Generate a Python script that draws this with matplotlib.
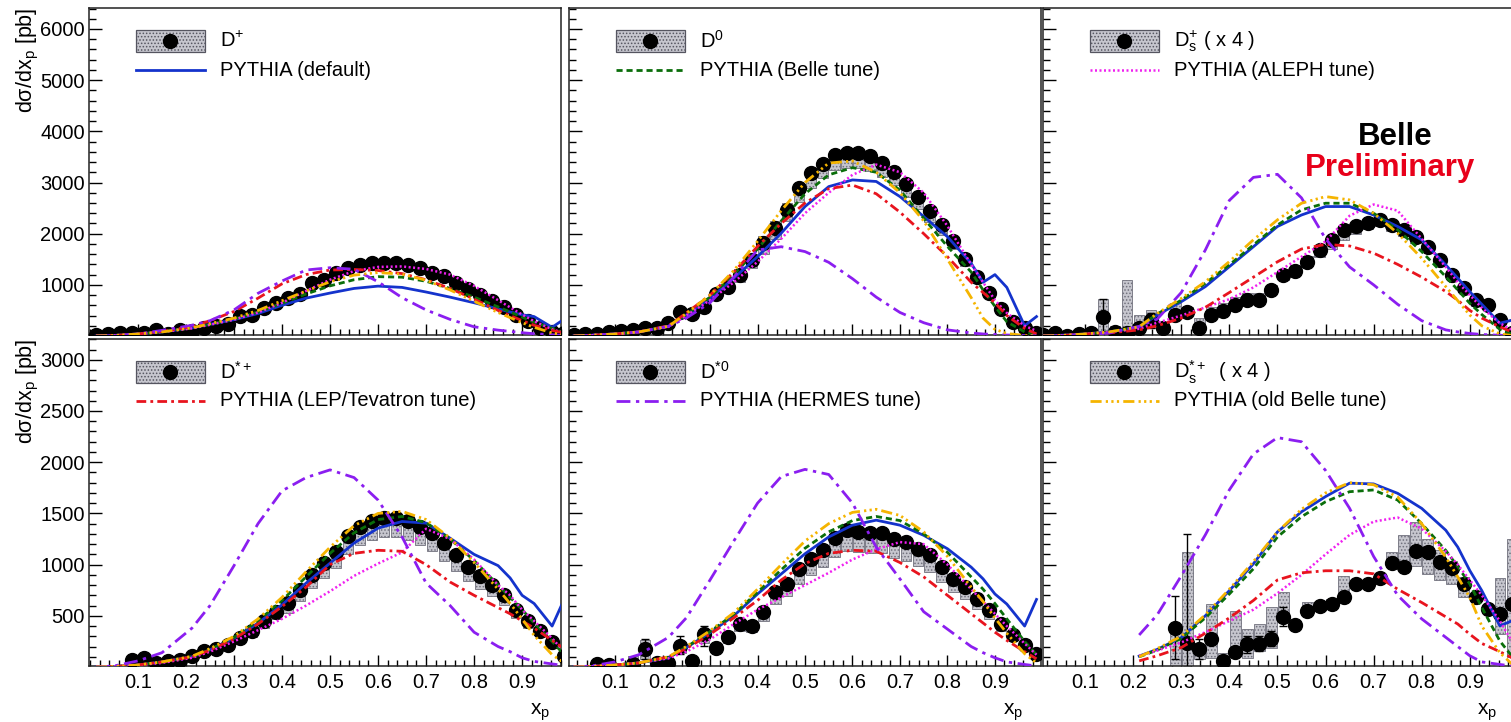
import numpy as np
import matplotlib
matplotlib.use("Agg")
import matplotlib.pyplot as plt
from matplotlib.patches import Rectangle
from matplotlib.lines import Line2D
from matplotlib.ticker import FixedLocator, MultipleLocator

plt.rcParams['font.family'] = ['Liberation Sans', 'DejaVu Sans']
plt.rcParams['mathtext.fontset'] = 'custom'
plt.rcParams['mathtext.rm'] = 'Liberation Sans'
plt.rcParams['mathtext.it'] = 'Liberation Sans:italic'
plt.rcParams['mathtext.bf'] = 'Liberation Sans:bold'
plt.rcParams['hatch.linewidth'] = 0.7

nan = np.nan
W, H = 1511, 722

# x_p bin centres (bin width 0.025)
x_bins = [0.0125, 0.0375, 0.0625, 0.0875, 0.1125, 0.1375, 0.1625, 0.1875, 0.2125, 0.2375,
          0.2625, 0.2875, 0.3125, 0.3375, 0.3625, 0.3875, 0.4125, 0.4375, 0.4625, 0.4875,
          0.5125, 0.5375, 0.5625, 0.5875, 0.6125, 0.6375, 0.6625, 0.6875, 0.7125, 0.7375,
          0.7625, 0.7875, 0.8125, 0.8375, 0.8625, 0.8875, 0.9125, 0.9375, 0.9625, 0.9875]
# x_p points where the PYTHIA curves were read
x_curve = [0.0125, 0.05, 0.10, 0.15, 0.2125, 0.25, 0.30, 0.35, 0.40, 0.45, 0.50, 0.55,
           0.60, 0.65, 0.70, 0.75, 0.80, 0.85, 0.875, 0.90, 0.925, 0.9625, 0.9875]

# ---------------- D+ ----------------
dplus_data = [20, 30, 65, 50, 65, 120, 35, 120, 105, 150, 200, 230, 395, 415, 545, 640, 740, 820, 1045, 1100,
              1230, 1325, 1390, 1435, 1435, 1425, 1390, 1325, 1240, 1175, 1030, 915, 805, 675, 575, 415, 285, 150, 85, 50]
dplus_default = [0, 10, 40, 80, 160, 230, 320, 440, 600, 740, 840, 930, 975, 950, 860, 760, 650, 530, 470, 415, 380, 170, 330]
dplus_belle = [0, 10, 40, 80, 160, 230, 330, 470, 640, 820, 980, 1100, 1160, 1150, 1070, 930, 760, 570, 470, 370, 270, 150, 60]
dplus_aleph = [0, 10, 40, 80, 150, 220, 320, 460, 650, 880, 1100, 1270, 1350, 1360, 1310, 1200, 980, 700, 560, 420, 290, 130, 60]
dplus_lep = [0, 10, 40, 90, 185, 300, 480, 740, 1020, 1200, 1290, 1300, 1280, 1220, 1100, 930, 720, 500, 400, 300, 210, 110, 60]
dplus_hermes = [0, 10, 40, 110, 210, 300, 510, 835, 1075, 1290, 1335, 1305, 1060, 750, 510, 325, 180, 115, 90, 65, 45, 25, 10]
dplus_oldbelle = [0, 10, 40, 80, 160, 240, 350, 500, 690, 880, 1060, 1190, 1240, 1210, 1090, 900, 680, 460, 360, 260, 170, 60, 20]

# ---------------- D0 ----------------
d0_data = [20, 30, 40, 85, 100, 120, 150, 165, 260, 475, 425, 575, 815, 965, 1195, 1485, 1810, 2105, 2465, 2890,
           3180, 3365, 3540, 3575, 3585, 3520, 3390, 3215, 2975, 2725, 2445, 2170, 1860, 1500, 1160, 850, 520, 280, 150, 50]
d0_box_lo = [15, 25, 35, 75, 90, 105, 130, 145, 230, 420, 380, 510, 720, 860, 1060, 1320, 1610, 1900, 2250, 2620,
             2900, 3080, 3240, 3280, 3290, 3230, 3110, 2950, 2720, 2490, 2230, 1980, 1700, 1370, 1060, 780, 470, 250, 130, 40]
d0_box_hi = [25, 35, 45, 95, 110, 135, 165, 185, 290, 520, 470, 640, 900, 1070, 1300, 1600, 1950, 2250, 2600, 3000,
             3250, 3420, 3560, 3590, 3590, 3530, 3400, 3230, 3000, 2740, 2460, 2180, 1870, 1510, 1170, 860, 530, 290, 160, 60]
d0_default = [0, 15, 40, 80, 190, 410, 735, 1130, 1550, 2010, 2530, 2920, 3050, 3020, 2725, 2335, 1940, 1420, 1050, 1200, 950, 200, 380]
d0_belle = [0, 15, 40, 80, 190, 420, 760, 1200, 1700, 2250, 2780, 3150, 3290, 3200, 2850, 2300, 1750, 1250, 900, 580, 280, 80, 20]
d0_aleph = [0, 15, 40, 80, 180, 400, 700, 1050, 1450, 1900, 2400, 2800, 3150, 3350, 3200, 2800, 2150, 1400, 1050, 700, 450, 200, 100]
d0_lep = [0, 15, 40, 80, 200, 450, 800, 1250, 1750, 2200, 2600, 2880, 2950, 2780, 2420, 2000, 1550, 1050, 850, 650, 400, 150, 40]
d0_hermes = [0, 15, 40, 80, 190, 350, 650, 1150, 1680, 1745, 1650, 1440, 1120, 760, 460, 260, 120, 60, 40, 30, 20, 10, 5]
d0_oldbelle = [0, 15, 40, 80, 190, 440, 800, 1280, 1850, 2450, 3000, 3380, 3420, 3200, 2800, 2250, 1500, 750, 350, 130, 50, 10, 0]

# ---------------- Ds+ (x4) ----------------
ds_data = [20, 50, 10, 40, 60, 380, 85, 50, 150, 310, 150, 410, 475, 150, 410, 495, 605, 705, 705, 900,
           1195, 1280, 1455, 1680, 1880, 2075, 2150, 2205, 2270, 2170, 2075, 1930, 1735, 1485, 1195, 930, 705, 605, 310, 50]
ds_box_lo = [0, 30, 0, 20, 40, 50, 40, 50, 120, 150, 100, 380, 420, 150, 410, 475, 570, 670, 700, 880,
             1095, 1195, 1360, 1550, 1710, 1880, 2000, 2100, 2150, 2050, 1960, 1820, 1640, 1400, 1120, 870, 580, 560, 270, 30]
ds_box_hi = [30, 70, 60, 130, 90, 720, 200, 1095, 410, 510, 250, 640, 560, 345, 575, 640, 770, 850, 850, 1000,
             1290, 1380, 1555, 1760, 1930, 2140, 2200, 2230, 2290, 2190, 2090, 1950, 1750, 1500, 1210, 950, 780, 650, 340, 80]
ds_err_bins = [5, 9]
ds_err_dn = [330, 160]
ds_err_up = [340, 135]
ds_default = [0, 15, 40, 80, 170, 410, 670, 965, 1355, 1745, 2140, 2365, 2530, 2530, 2365, 2140, 1880, 1390, 1130, 865, 620, 250, 310]
ds_belle = [0, 10, 40, 80, 180, 430, 700, 1030, 1390, 1780, 2170, 2465, 2595, 2595, 2400, 2075, 1650, 1160, 900, 640, 420, 130, 40]
ds_aleph = [0, 10, 40, 80, 140, 260, 400, 560, 720, 950, 1250, 1550, 1850, 2350, 2570, 2450, 1900, 1350, 1050, 800, 550, 250, 120]
ds_lep = [0, 10, 40, 60, 120, 200, 350, 560, 850, 1150, 1450, 1700, 1790, 1760, 1620, 1400, 1150, 870, 700, 500, 350, 180, 80]
ds_hermes = [0, 10, 30, 60, 190, 330, 850, 1680, 2650, 3100, 3160, 2700, 1900, 1350, 1000, 620, 300, 120, 80, 50, 30, 15, 10]
ds_oldbelle = [0, 10, 40, 80, 180, 440, 735, 1060, 1455, 1880, 2270, 2595, 2725, 2660, 2400, 2010, 1520, 965, 690, 410, 200, 40, 10]

# ---------------- D*+ ----------------
dstp_data = [nan, nan, nan, 70, 87, 38, 54, 64, 103, 152, 174, 217, 282, 347, 445, 542, 624, 754, 900, 1014,
             1128, 1275, 1372, 1421, 1454, 1454, 1421, 1372, 1307, 1210, 1096, 981, 884, 802, 705, 559, 445, 347, 249, 110]
dstp_box_lo = [nan, nan, nan, 55, 70, 25, 40, 50, 85, 130, 150, 185, 240, 295, 380, 465, 530, 645, 770, 870,
               970, 1100, 1190, 1240, 1270, 1270, 1240, 1190, 1130, 1040, 940, 840, 760, 690, 605, 480, 385, 300, 215, 95]
dstp_box_hi = [nan, nan, nan, 85, 100, 50, 65, 75, 115, 165, 190, 235, 300, 365, 460, 555, 640, 770, 915, 1025,
               1140, 1285, 1380, 1430, 1460, 1460, 1430, 1380, 1315, 1220, 1105, 990, 895, 810, 715, 570, 455, 355, 255, 120]
dstp_default = [0, 5, 20, 50, 100, 168, 282, 429, 608, 819, 1014, 1210, 1356, 1421, 1405, 1258, 1100, 990, 870, 700, 620, 400, 660]
dstp_belle = [0, 5, 20, 50, 100, 170, 290, 450, 650, 880, 1110, 1310, 1440, 1470, 1410, 1250, 1040, 800, 680, 560, 430, 250, 120]
dstp_aleph = [0, 5, 20, 40, 90, 150, 250, 360, 470, 600, 740, 890, 1010, 1120, 1350, 1250, 1050, 800, 700, 560, 450, 280, 150]
dstp_lep = [0, 5, 20, 50, 100, 165, 275, 420, 590, 780, 1000, 1110, 1140, 1130, 1000, 830, 700, 580, 520, 450, 380, 260, 180]
dstp_hermes = [0, 10, 60, 140, 380, 600, 990, 1400, 1720, 1850, 1925, 1850, 1630, 1270, 820, 600, 340, 200, 150, 90, 55, 30, 15]
dstp_oldbelle = [0, 5, 20, 50, 105, 180, 300, 470, 680, 930, 1170, 1380, 1500, 1520, 1440, 1260, 1020, 760, 620, 470, 310, 120, 40]

# ---------------- D*0 ----------------
dst0_data = [nan, nan, 25, 15, nan, 25, 172, 41, 41, 205, 58, 320, 189, 294, 418, 402, 533, 730, 812, 959,
             1057, 1145, 1263, 1335, 1319, 1310, 1310, 1254, 1221, 1155, 1090, 975, 861, 779, 664, 556, 418, 313, 215, 123]
dst0_box_lo = [nan, nan, 15, 5, nan, 0, 80, 30, 30, 140, 45, 230, 150, 230, 350, 340, 450, 620, 690, 815,
               900, 975, 1075, 1135, 1120, 1115, 1115, 1065, 1040, 985, 925, 830, 730, 660, 565, 470, 355, 265, 180, 100]
dst0_box_hi = [nan, nan, 35, 25, nan, 110, 260, 55, 55, 230, 70, 340, 205, 310, 430, 415, 545, 745, 825, 970,
               1065, 1150, 1270, 1340, 1325, 1315, 1315, 1260, 1230, 1160, 1095, 980, 870, 790, 675, 565, 425, 320, 225, 130]
dst0_err_bins = [6, 9, 11]
dst0_err_dn = [98, 82, 115]
dst0_err_up = [99, 98, 81]
dst0_default = [0, 5, 20, 40, 90, 189, 336, 500, 713, 909, 1106, 1270, 1385, 1434, 1385, 1286, 1155, 975, 861, 713, 615, 400, 660]
dst0_belle = [0, 5, 20, 40, 95, 195, 345, 515, 730, 950, 1160, 1320, 1430, 1470, 1430, 1300, 1120, 880, 760, 620, 470, 250, 120]
dst0_aleph = [0, 5, 20, 40, 85, 150, 270, 420, 560, 680, 800, 920, 1050, 1150, 1220, 1200, 1000, 760, 640, 520, 400, 230, 120]
dst0_lep = [0, 5, 20, 40, 100, 180, 320, 480, 650, 850, 1010, 1110, 1140, 1130, 1020, 880, 700, 520, 430, 340, 260, 150, 80]
dst0_hermes = [0, 10, 50, 120, 290, 480, 850, 1230, 1600, 1860, 1930, 1880, 1600, 1170, 860, 540, 370, 200, 140, 90, 50, 25, 10]
dst0_oldbelle = [0, 5, 20, 40, 100, 200, 355, 530, 760, 1000, 1230, 1400, 1510, 1540, 1480, 1320, 1080, 780, 640, 480, 330, 130, 40]

# ---------------- Ds*+ (x4) ----------------
dsst_data = [nan, nan, nan, nan, nan, nan, nan, nan, nan, nan, nan, 385, 238, 172, 271, 58, 150, 221, 228, 271,
             484, 411, 549, 598, 615, 680, 811, 811, 870, 1014, 975, 1132, 1122, 1024, 969, 811, 680, 566, 516, 615]
dsst_box_lo = [nan, nan, nan, nan, nan, nan, nan, nan, nan, nan, nan, 0, 0, 74, 90, 10, 107, 90, 156, 189,
               484, 380, 516, 560, 590, 648, 780, 790, 840, 975, 975, 990, 909, 851, 811, 687, 640, 540, 320, 100]
dsst_box_hi = [nan, nan, nan, nan, nan, nan, nan, nan, nan, nan, nan, 418, 1122, 221, 615, 140, 549, 369, 418, 582,
               730, 440, 631, 630, 660, 893, 840, 830, 900, 1122, 1286, 1417, 1253, 1139, 1040, 877, 720, 590, 870, 1250]
dsst_err_bins = [11, 12, 13, 17, 18, 19, 20]
dsst_err_dn = [311, 238, 98, 81, 72, 66, 82]
dsst_err_up = [312, 1065, 99, 82, 75, 82, 98]
dsst_default = [nan, nan, nan, nan, 107, 172, 287, 500, 746, 1008, 1319, 1516, 1664, 1795, 1788, 1696, 1549, 1336, 1171, 942, 746, 402, 451]
dsst_belle = [nan, nan, nan, nan, 100, 165, 280, 480, 713, 959, 1270, 1467, 1614, 1712, 1729, 1630, 1400, 1139, 980, 811, 582, 254, 107]
dsst_aleph = [nan, nan, nan, nan, 110, 160, 240, 340, 450, 560, 720, 900, 1100, 1290, 1420, 1460, 1350, 1130, 1000, 850, 700, 450, 250]
dsst_lep = [nan, nan, nan, nan, 60, 110, 190, 330, 480, 650, 850, 920, 940, 940, 910, 760, 630, 490, 420, 320, 230, 150, 90]
dsst_hermes = [nan, nan, nan, nan, 313, 510, 890, 1290, 1730, 2080, 2240, 2200, 1920, 1550, 1080, 700, 470, 290, 200, 110, 50, 25, 10]
dsst_oldbelle = [nan, nan, nan, nan, 100, 180, 300, 510, 760, 1030, 1320, 1540, 1700, 1800, 1780, 1660, 1400, 1073, 880, 680, 400, 140, 30]

tunes = ['default', 'belle', 'aleph', 'lep', 'hermes', 'oldbelle']
tune_style = {
    'default':  dict(color='#1433cc', ls='-', lw=2.0),
    'belle':    dict(color='#0a6e0a', ls=(0, (2.2, 1.4)), lw=2.0),
    'aleph':    dict(color='#f020f0', ls=(0, (0.8, 1.0)), lw=1.8),
    'lep':      dict(color='#e8141e', ls=(0, (3.5, 1.5, 1.0, 1.5)), lw=2.0),
    'hermes':   dict(color='#8b1ef0', ls=(0, (5, 2, 1.2, 2)), lw=2.0),
    'oldbelle': dict(color='#f5b400', ls=(0, (4, 1.5, 0.8, 1.2, 0.8, 1.2, 0.8, 1.5)), lw=2.0),
}

panels = [
    dict(row=0, col=0, data=dplus_data, lo=None, hi=None, err=None,
         curves=[dplus_default, dplus_belle, dplus_aleph, dplus_lep, dplus_hermes, dplus_oldbelle],
         label='D$^{+}$', tune='default', tune_label='PYTHIA (default)'),
    dict(row=0, col=1, data=d0_data, lo=d0_box_lo, hi=d0_box_hi, err=None,
         curves=[d0_default, d0_belle, d0_aleph, d0_lep, d0_hermes, d0_oldbelle],
         label='D$^{0}$', tune='belle', tune_label='PYTHIA (Belle tune)'),
    dict(row=0, col=2, data=ds_data, lo=ds_box_lo, hi=ds_box_hi, err=(ds_err_bins, ds_err_dn, ds_err_up),
         curves=[ds_default, ds_belle, ds_aleph, ds_lep, ds_hermes, ds_oldbelle],
         label='D$_{\\mathrm{s}}^{+}$ ( x 4 )', tune='aleph', tune_label='PYTHIA (ALEPH tune)'),
    dict(row=1, col=0, data=dstp_data, lo=dstp_box_lo, hi=dstp_box_hi, err=None,
         curves=[dstp_default, dstp_belle, dstp_aleph, dstp_lep, dstp_hermes, dstp_oldbelle],
         label='D$^{*+}$', tune='lep', tune_label='PYTHIA (LEP/Tevatron tune)'),
    dict(row=1, col=1, data=dst0_data, lo=dst0_box_lo, hi=dst0_box_hi, err=(dst0_err_bins, dst0_err_dn, dst0_err_up),
         curves=[dst0_default, dst0_belle, dst0_aleph, dst0_lep, dst0_hermes, dst0_oldbelle],
         label='D$^{*0}$', tune='hermes', tune_label='PYTHIA (HERMES tune)'),
    dict(row=1, col=2, data=dsst_data, lo=dsst_box_lo, hi=dsst_box_hi, err=(dsst_err_bins, dsst_err_dn, dsst_err_up),
         curves=[dsst_default, dsst_belle, dsst_aleph, dsst_lep, dsst_hermes, dsst_oldbelle],
         label='D$_{\\mathrm{s}}^{*+}$  ( x 4 )', tune='oldbelle', tune_label='PYTHIA (old Belle tune)'),
]

# pad geometry in pixels
col_px = [(89, 561), (569, 1041), (1043, 1515)]
row_px = [(8, 335), (339, 666)]
col_xlim = [(-0.002, 0.981), (0.003, 0.997), (0.0125, 0.994)]
row_ylim = [(20, 6410), (10, 3203)]
row_major = [1000, 500]
row_minor = [200, 100]
xlabel_px = [550, 1023, 1497]

BOX_FACE = '#c6c6ce'
BOX_EDGE = '#70707c'


def fx(p):
    return p / W


def fy(p):
    return 1 - p / H


fig = plt.figure(figsize=(W / 100, H / 100), dpi=100)

for p in panels:
    l, r = col_px[p['col']]
    t, b = row_px[p['row']]
    ax = fig.add_axes([fx(l), fy(b), (r - l) / W, (b - t) / H])
    ax.set_xlim(*col_xlim[p['col']])
    ax.set_ylim(*row_ylim[p['row']])

    # systematic boxes
    if p['lo'] is not None:
        for xb, lo, hi in zip(x_bins, p['lo'], p['hi']):
            if np.isfinite(lo) and np.isfinite(hi):
                ax.add_patch(Rectangle((xb - 0.011, lo), 0.022, hi - lo, facecolor=BOX_FACE,
                                       edgecolor=BOX_EDGE, hatch='.....', lw=0.6, zorder=2))
    # statistical errors
    if p['err'] is not None:
        bins, dn, up = p['err']
        ax.errorbar([x_bins[i] for i in bins], [p['data'][i] for i in bins], yerr=[dn, up],
                    fmt='none', ecolor='black', elinewidth=1.0, capsize=3, capthick=1.0, zorder=3)
    ax.plot(x_bins, p['data'], 'o', color='black', ms=10, zorder=3)

    for key, vals in zip(tunes, p['curves']):
        st = tune_style[key]
        ax.plot(x_curve, vals, color=st['color'], ls=st['ls'], lw=st['lw'], zorder=4)

    ax.xaxis.set_major_locator(FixedLocator([0.1, 0.2, 0.3, 0.4, 0.5, 0.6, 0.7, 0.8, 0.9]))
    ax.xaxis.set_minor_locator(MultipleLocator(0.02))
    ax.yaxis.set_major_locator(MultipleLocator(row_major[p['row']]))
    ax.yaxis.set_minor_locator(MultipleLocator(row_minor[p['row']]))
    ax.tick_params(which='both', direction='in', top=False, right=False, width=1.0, labelsize=14.5)
    ax.tick_params(axis='x', which='major', length=8, pad=5)
    ax.tick_params(axis='x', which='minor', length=4.5)
    ax.tick_params(axis='y', which='major', length=9, pad=3)
    ax.tick_params(axis='y', which='minor', length=5)
    ax.tick_params(labelleft=(p['col'] == 0), labelbottom=(p['row'] == 1))
    for s in ax.spines.values():
        s.set_linewidth(1.1)
        s.set_color('#222222')

    # legend drawn by hand
    yc = t + 33
    fig.add_artist(Rectangle((fx(l + 47), fy(yc + 11)), 69 / W, 22 / H, transform=fig.transFigure,
                             facecolor=BOX_FACE, edgecolor='#555560', hatch='.....', lw=0.9))
    fig.add_artist(Line2D([fx(l + 81)], [fy(yc)], transform=fig.transFigure, marker='o', ms=10,
                          color='black', linestyle='none'))
    fig.text(fx(l + 131), fy(yc), p['label'], fontsize=14.5, va='center', ha='left')
    st = tune_style[p['tune']]
    fig.add_artist(Line2D([fx(l + 47), fx(l + 116)], [fy(yc + 29), fy(yc + 29)], transform=fig.transFigure,
                          color=st['color'], ls=st['ls'], lw=st['lw']))
    fig.text(fx(l + 131), fy(yc + 29), p['tune_label'], fontsize=14.5, va='center', ha='left')

    if p['row'] == 1:
        fig.text(fx(xlabel_px[p['col']]), fy(715), 'x$_{\\rm p}$', fontsize=15, ha='right', va='baseline')
    if p['col'] == 0:
        fig.text(fx(28), fy(t), 'd\u03c3/dx$_{\\rm p}$ [pb]', fontsize=15.5, rotation=90, ha='center', va='top')

fig.text(fx(1395), fy(137), 'Belle', fontsize=22.5, fontweight='bold', color='black', ha='center', va='center')
fig.text(fx(1390), fy(168), 'Preliminary', fontsize=22.5, fontweight='bold', color='#e8001a',
         ha='center', va='center')

fig.savefig('out.png', dpi=100)
